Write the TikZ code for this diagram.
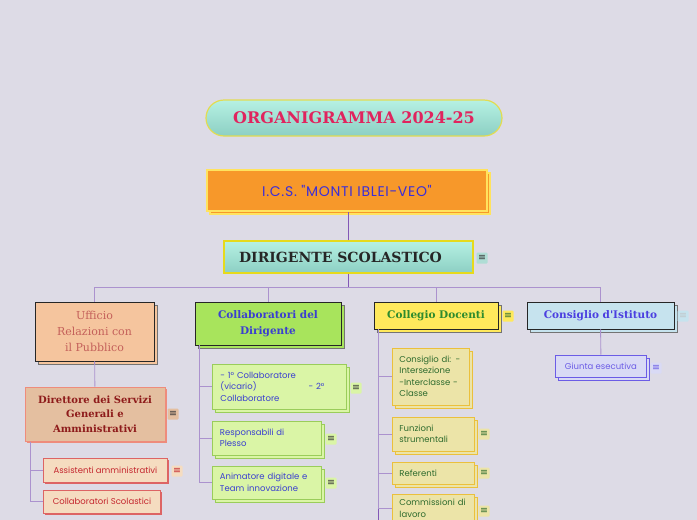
\documentclass[tikz,border=0pt]{standalone}
\usepackage{fontspec}
\usepackage{xcolor}
\usepackage{tikz}
\usetikzlibrary{shadows, positioning}
\setmainfont{Poppins}
\newfontfamily\headfont{DejaVu Serif}
\newfontfamily\symfont{DejaVu Sans}
\newfontfamily\widefont[LetterSpace=5]{Poppins}

\definecolor{bgcol}{HTML}{DDDBE6}
\definecolor{mintTop}{HTML}{B6F1E3}
\definecolor{mintBot}{HTML}{8CCFC3}
\definecolor{titleRed}{HTML}{E0245E}
\definecolor{titleLine}{HTML}{E2DC52}
\definecolor{icsFill}{HTML}{F7982A}
\definecolor{icsLine}{HTML}{FFE35E}
\definecolor{icsText}{HTML}{3B2ED8}
\definecolor{dirLine}{HTML}{E6DA1C}
\definecolor{linkLight}{HTML}{AB92CE}
\definecolor{linkDark}{HTML}{8257B6}
\definecolor{peach}{HTML}{F5C59E}
\definecolor{peachText}{HTML}{C4605A}
\definecolor{tan}{HTML}{E4BFA0}
\definecolor{salmon}{HTML}{EE8C7C}
\definecolor{darkRed}{HTML}{8E1B1B}
\definecolor{leafPeach}{HTML}{F5DCC0}
\definecolor{leafRed}{HTML}{DD6464}
\definecolor{redText}{HTML}{C4262E}
\definecolor{grass}{HTML}{A8E45C}
\definecolor{leafGreen}{HTML}{DAF5A6}
\definecolor{greenLine}{HTML}{9ACD5A}
\definecolor{blueText}{HTML}{3A3FD0}
\definecolor{sun}{HTML}{FFE95C}
\definecolor{leafYellow}{HTML}{ECE4A8}
\definecolor{goldLine}{HTML}{EBC03C}
\definecolor{greenText}{HTML}{2E6B2E}
\definecolor{headGreen}{HTML}{2E8B2E}
\definecolor{sky}{HTML}{C6E3EE}
\definecolor{skyText}{HTML}{4B3FE0}
\definecolor{lavender}{HTML}{D9DAF5}
\definecolor{violet}{HTML}{6B5CE6}

\begin{document}
\begin{tikzpicture}[x=1pt, y=-1pt,
  titlebox/.style={rounded corners=18pt, draw=titleLine, line width=1.2pt,
                   top color=mintTop, bottom color=mintBot,
                   minimum width=296, minimum height=36, text=titleRed,
                   font=\headfont\bfseries\fontsize{16}{18}\selectfont},
  icsbox/.style={draw=icsLine, line width=1.5pt, fill=icsFill,
                 minimum width=280, minimum height=41, text=icsText,
                 font=\widefont\fontsize{14}{16}\selectfont,
                 general shadow={shadow xshift=3pt, shadow yshift=-3pt,
                                 fill=icsFill, draw=icsLine, line width=1.5pt}},
  dirbox/.style={draw=dirLine, line width=1.5pt,
                 top color=mintTop, bottom color=mintBot,
                 minimum width=249, minimum height=32, text=black!85,
                 font=\headfont\bfseries\fontsize{14}{17}\selectfont},
  areabox/.style={draw=black!85, line width=0.9pt, fill=#1, align=center,
                  font=\headfont\bfseries\fontsize{10.5}{16}\selectfont,
                  general shadow={shadow xshift=3pt, shadow yshift=-3pt,
                                  fill=#1, draw=black!55, line width=0.9pt}},
  plainleaf/.style 2 args={draw=#2, line width=0.9pt, fill=#1,
                  align=left, inner xsep=7pt, anchor=west,
                  font=\fontsize{8.5}{11.5}\selectfont},
  leafbox/.style 2 args={plainleaf={#1}{#2},
                  general shadow={shadow xshift=3pt, shadow yshift=-3pt,
                                  fill=#1, draw=#2, line width=0.9pt}},
  redleaf/.style={plainleaf={leafPeach}{leafRed}, text=redText,
                  general shadow={shadow xshift=2pt, shadow yshift=-2pt, fill=leafRed}},
  menuicon/.style 2 args={fill=#1, text=#2, minimum size=11pt, inner sep=0pt,
                  rounded corners=1pt, font=\symfont\fontsize{9.5}{9.5}\selectfont},
  link/.style={draw=linkLight, line width=0.9pt},
  trunk/.style={draw=linkDark, line width=1pt}
]
\useasboundingbox[fill=bgcol] (0,0) rectangle (697,520);

% top of the chart
\node[titlebox] (title) at (354,118) {ORGANIGRAMMA 2024-25};
\node[icsbox]   (ics)   at (347,190.5) {I.C.S. "MONTI IBLEI-VEO"};
\node[dirbox]   (dir)   at (348.5,257) {DIRIGENTE SCOLASTICO\hspace*{16pt}};
\node[menuicon={mintBot!70}{black!80}] (dir-n) at (482,258) {≡};

% four areas
\node[areabox=peach, minimum width=119, minimum height=59, text=peachText,
      font=\headfont\fontsize{11}{16}\selectfont]
  (uff) at (94.5,331.5) {Ufficio\\Relazioni con\\il Pubblico};
\node[areabox=grass, minimum width=146, minimum height=43, text=blueText]
  (collab) at (268,323.5) {Collaboratori del\\Dirigente};
\node[areabox=sun, minimum width=124, minimum height=27, text=headGreen]
  (coll) at (436,315.5) {Collegio Docenti};
\node[menuicon={sun}{greenText}] (coll-n) at (508,316) {≡};
\node[areabox=sky, minimum width=147, minimum height=27, text=skyText]
  (cons) at (600.5,315.5) {Consiglio d'Istituto};
\node[menuicon={sky}{sky!50!black!40}] (cons-n) at (683,316) {≡};

% segreteria
\node[draw=salmon, line width=1pt, fill=tan, minimum width=140, minimum height=54,
      align=center, text=darkRed, font=\headfont\bfseries\fontsize{10}{14.5}\selectfont,
      general shadow={shadow xshift=1.5pt, shadow yshift=-1.5pt, fill=salmon}]
  (dsga) at (95,414) {Direttore dei Servizi\\Generali e\\Amministrativi};
\node[menuicon={tan}{black!80}] (dsga-n) at (173,414) {≡};
\node[redleaf, minimum width=124, minimum height=24] (asst) at (43,470)
  {Assistenti amministrativi};
\node[menuicon={leafPeach}{redText}] (asst-n) at (177,471) {≡};
\node[redleaf, minimum width=117, minimum height=23] (colls) at (43,501.5)
  {Collaboratori Scolastici};

% collaboratori
\node[leafbox={leafGreen}{greenLine}, minimum width=134, minimum height=45,
      text width=118, text=blueText] (c1) at (212,386.5)
  {- 1° Collaboratore\\\makebox[104pt][l]{(vicario)\hfill- 2°}\\Collaboratore};
\node[menuicon={leafGreen}{black!80}] (c1-n) at (356,388) {≡};
\node[leafbox={leafGreen}{greenLine}, minimum width=109, minimum height=34,
      text width=94, text=blueText] (c2) at (212,438) {Responsabili di\\Plesso};
\node[menuicon={leafGreen}{black!80}] (c2-n) at (331,439) {≡};
\node[leafbox={leafGreen}{greenLine}, minimum width=109, minimum height=33,
      text width=94, text=blueText] (c3) at (212,482.5) {Animatore digitale e\\Team innovazione};
\node[menuicon={leafGreen}{black!80}] (c3-n) at (331,483) {≡};

% collegio
\node[leafbox={leafYellow}{goldLine}, minimum width=77, minimum height=57,
      text width=63, text=greenText] (g1) at (392,376.5)
  {Consiglio di: -\\Intersezione\\-Interclasse -\\Classe};
\node[leafbox={leafYellow}{goldLine}, minimum width=82, minimum height=34,
      text width=68, text=greenText] (g2) at (392,434) {Funzioni\\strumentali};
\node[menuicon={leafYellow}{greenText}] (g2-n) at (484,434) {≡};
\node[leafbox={leafYellow}{goldLine}, minimum width=82, minimum height=22,
      text width=68, text=greenText] (g3) at (392,473) {Referenti};
\node[menuicon={leafYellow}{greenText}] (g3-n) at (484,473) {≡};
\node[leafbox={leafYellow}{goldLine}, minimum width=82, anchor=north west,
      inner ysep=5pt, text width=68, text=greenText] (g4) at (392,494)
  {Commissioni di\\lavoro};
\node[menuicon={leafYellow}{greenText}] (g4-n) at (484,511) {≡};

% consiglio
\node[leafbox={lavender}{violet}, minimum width=91, minimum height=22,
      text=violet, align=center] (giunta) at (555,366) {Giunta esecutiva};
\node[menuicon={lavender}{violet}] (giunta-n) at (656,368) {≡};

% connectors
\draw[trunk] (dir.north) -- (dir.north |- ics.south);
\draw[trunk] (dir.south) -- ++(0,14) coordinate (bus);
\draw[link] (bus) -| (uff.north);
\draw[link] (bus) -| (collab.north);
\draw[link] (bus) -| (coll.north);
\draw[link] (bus) -| (cons.north);
\draw[link] (uff) -- (dsga);
\draw[link] ([xshift=6pt]dsga.south west) |- (asst.west);
\draw[link] ([xshift=6pt]dsga.south west) |- (colls.west);
\draw[link] ([xshift=5pt]collab.south west) |- (c1.west);
\draw[link] ([xshift=5pt]collab.south west) |- (c2.west);
\draw[link] ([xshift=5pt]collab.south west) |- (c3.west);
\draw[trunk] ([xshift=5pt]coll.south west) -- ([xshift=5pt]coll.south west |- g4.south);
\draw[link] ([xshift=5pt]coll.south west) |- (g1.west);
\draw[link] ([xshift=5pt]coll.south west) |- (g2.west);
\draw[link] ([xshift=5pt]coll.south west) |- (g3.west);
\draw[link] ([xshift=5pt]coll.south west) |- (g4.west);
\draw[link] (cons) -- (giunta);
\end{tikzpicture}
\end{document}
